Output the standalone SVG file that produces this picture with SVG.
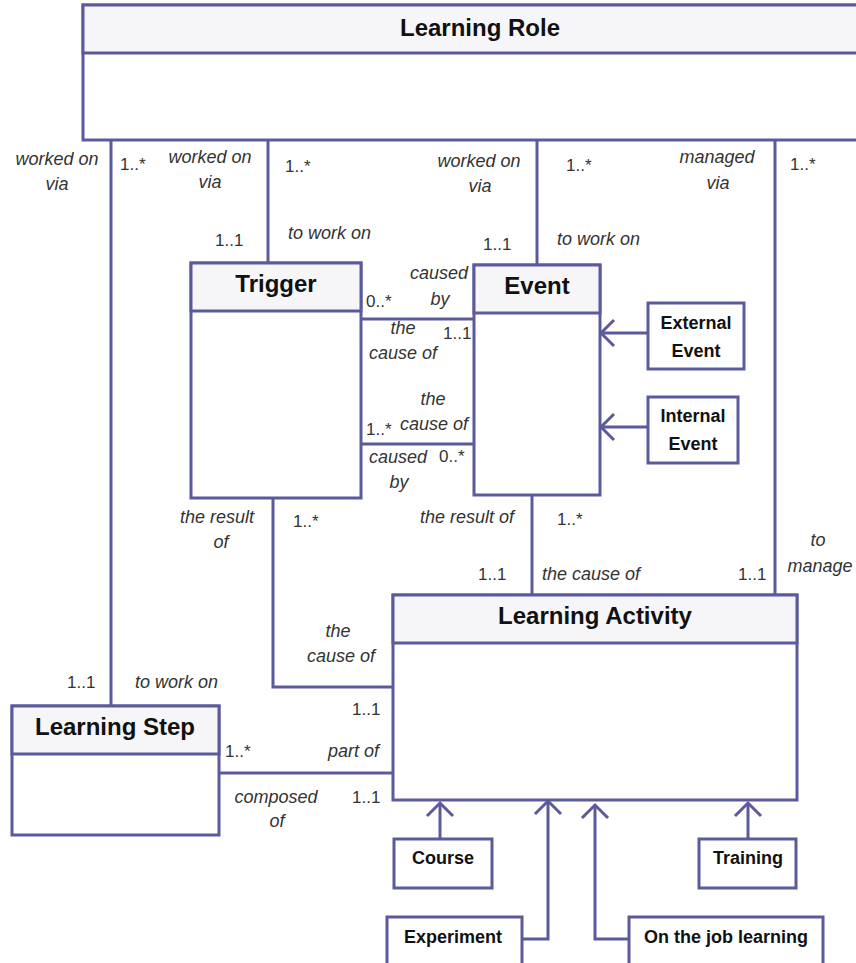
<svg xmlns="http://www.w3.org/2000/svg" width="856" height="963" viewBox="0 0 856 963">
<style>
.box{fill:#ffffff;stroke:#5a5a9c;stroke-width:3}
.hdr{fill:#f6f6f8;stroke:#5a5a9c;stroke-width:3}
.ln{fill:none;stroke:#5a5a9c;stroke-width:3}
.title{font-family:"Liberation Sans",Arial,sans-serif;font-weight:bold;font-size:24px;fill:#111;text-anchor:middle}
.sub{font-family:"Liberation Sans",Arial,sans-serif;font-weight:bold;font-size:18px;fill:#111;text-anchor:middle}
.lbl{font-family:"Liberation Sans",Arial,sans-serif;font-style:italic;font-size:18px;fill:#333}
.m{text-anchor:middle}
.e{text-anchor:end}
.mul{font-family:"Liberation Sans",Arial,sans-serif;font-size:17px;fill:#333}
</style>
<defs>
<marker id="open" markerUnits="userSpaceOnUse" markerWidth="18" markerHeight="30" viewBox="0 0 18 30" refX="15" refY="15" orient="auto">
<path d="M2,2 L15,15 L2,28" fill="none" stroke="#5a5a9c" stroke-width="3"/>
</marker>
</defs>
<rect width="856" height="963" fill="#ffffff"/>

<g id="connectors">
<line class="ln" x1="111" y1="140" x2="111" y2="706"/>
<line class="ln" x1="268" y1="140" x2="268" y2="263"/>
<line class="ln" x1="537" y1="140" x2="537" y2="265"/>
<line class="ln" x1="775" y1="140" x2="775" y2="595"/>
<line class="ln" x1="361" y1="319" x2="474" y2="319"/>
<line class="ln" x1="361" y1="444" x2="474" y2="444"/>
<polyline class="ln" points="273,498 273,687 393,687"/>
<line class="ln" x1="532" y1="495" x2="532" y2="595"/>
<line class="ln" x1="219" y1="773" x2="393" y2="773"/>
<line class="ln" x1="648" y1="333" x2="601" y2="333" marker-end="url(#open)"/>
<line class="ln" x1="648" y1="427" x2="601" y2="427" marker-end="url(#open)"/>
<line class="ln" x1="440" y1="839" x2="440" y2="803" marker-end="url(#open)"/>
<line class="ln" x1="748" y1="839" x2="748" y2="803" marker-end="url(#open)"/>
<polyline class="ln" points="522,939 548,939 548,801" marker-end="url(#open)"/>
<polyline class="ln" points="629,939 595,939 595,805" marker-end="url(#open)"/>
</g>

<g id="learning-role">
<rect class="box" x="83" y="5" width="790" height="135"/>
<rect class="hdr" x="83" y="5" width="790" height="48"/>
<text class="title" x="480" y="36">Learning Role</text>
</g>

<g id="trigger">
<rect class="box" x="191" y="263" width="170" height="235"/>
<rect class="hdr" x="191" y="263" width="170" height="48"/>
<text class="title" x="276" y="292">Trigger</text>
</g>

<g id="event">
<rect class="box" x="474" y="265" width="126" height="230"/>
<rect class="hdr" x="474" y="265" width="126" height="48"/>
<text class="title" x="537" y="294">Event</text>
</g>

<g id="external-event">
<rect class="box" x="648" y="303" width="96" height="66"/>
<text class="sub" x="696" y="329">External</text>
<text class="sub" x="696" y="357">Event</text>
</g>

<g id="internal-event">
<rect class="box" x="648" y="397" width="90" height="66"/>
<text class="sub" x="693" y="422">Internal</text>
<text class="sub" x="693" y="450">Event</text>
</g>

<g id="learning-activity">
<rect class="box" x="393" y="595" width="404" height="205"/>
<rect class="hdr" x="393" y="595" width="404" height="48"/>
<text class="title" x="595" y="624">Learning Activity</text>
</g>

<g id="learning-step">
<rect class="box" x="12" y="706" width="207" height="129"/>
<rect class="hdr" x="12" y="706" width="207" height="48"/>
<text class="title" x="115" y="735">Learning Step</text>
</g>

<g id="course">
<rect class="box" x="394" y="839" width="98" height="49"/>
<text class="sub" x="443" y="864">Course</text>
</g>

<g id="training">
<rect class="box" x="699" y="839" width="97" height="49"/>
<text class="sub" x="748" y="864">Training</text>
</g>

<g id="experiment">
<rect class="box" x="387" y="917" width="135" height="60"/>
<text class="sub" x="453" y="943">Experiment</text>
</g>

<g id="on-the-job-learning">
<rect class="box" x="629" y="917" width="194" height="60"/>
<text class="sub" x="726" y="943">On the job learning</text>
</g>

<g id="labels">
<text class="lbl m" x="57" y="165">worked on</text>
<text class="lbl m" x="57" y="190">via</text>
<text class="mul" x="120" y="170">1..*</text>
<text class="lbl m" x="210" y="163">worked on</text>
<text class="lbl m" x="210" y="188">via</text>
<text class="mul" x="285" y="172">1..*</text>
<text class="mul" x="215" y="246">1..1</text>
<text class="lbl" x="288" y="239">to work on</text>
<text class="lbl m" x="479" y="167">worked on</text>
<text class="lbl m" x="480" y="192">via</text>
<text class="mul" x="566" y="171">1..*</text>
<text class="mul" x="483" y="250">1..1</text>
<text class="lbl" x="557" y="245">to work on</text>
<text class="lbl m" x="717" y="163">managed</text>
<text class="lbl m" x="718" y="189">via</text>
<text class="mul" x="790" y="170">1..*</text>
<text class="lbl m" x="439" y="279">caused</text>
<text class="lbl m" x="440" y="305">by</text>
<text class="mul" x="366" y="307">0..*</text>
<text class="lbl m" x="403" y="334">the</text>
<text class="lbl m" x="403" y="359">cause of</text>
<text class="mul" x="443" y="339">1..1</text>
<text class="lbl m" x="433" y="405">the</text>
<text class="lbl m" x="434" y="430">cause of</text>
<text class="mul" x="366" y="435">1..*</text>
<text class="lbl m" x="398" y="463">caused</text>
<text class="lbl m" x="399" y="488">by</text>
<text class="mul" x="439" y="462">0..*</text>
<text class="lbl m" x="217" y="523">the result</text>
<text class="lbl m" x="221" y="548">of</text>
<text class="mul" x="293" y="527">1..*</text>
<text class="lbl m" x="467" y="523">the result of</text>
<text class="mul" x="557" y="525">1..*</text>
<text class="mul" x="478" y="580">1..1</text>
<text class="lbl" x="542" y="580">the cause of</text>
<text class="mul" x="738" y="580">1..1</text>
<text class="lbl m" x="818" y="546">to</text>
<text class="lbl m" x="820" y="572">manage</text>
<text class="lbl m" x="338" y="637">the</text>
<text class="lbl m" x="341" y="662">cause of</text>
<text class="mul" x="67" y="688">1..1</text>
<text class="lbl" x="135" y="688">to work on</text>
<text class="mul" x="352" y="715">1..1</text>
<text class="mul" x="225" y="757">1..*</text>
<text class="lbl e" x="379" y="757">part of</text>
<text class="lbl m" x="276" y="803">composed</text>
<text class="lbl m" x="277" y="827">of</text>
<text class="mul" x="352" y="803">1..1</text>
</g>
</svg>
